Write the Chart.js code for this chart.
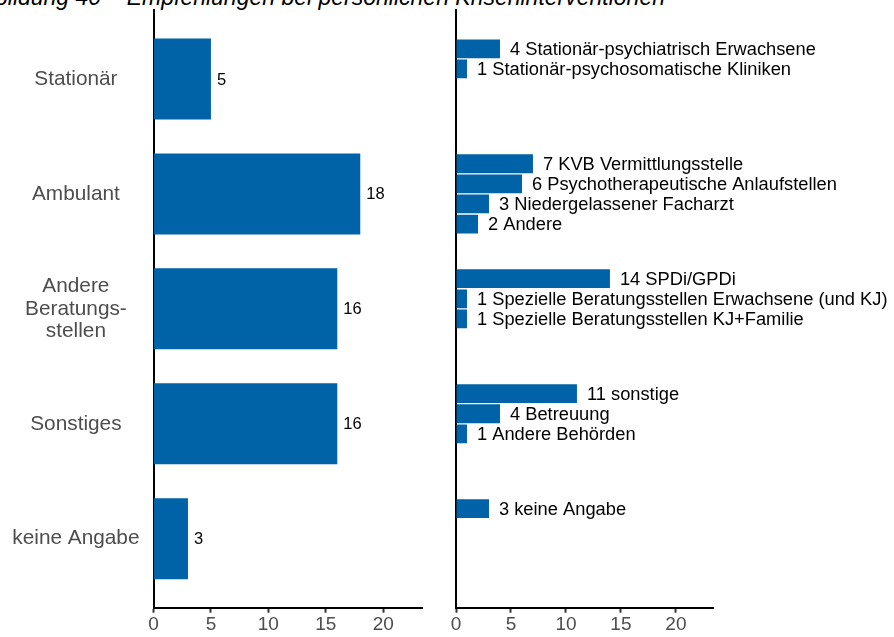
<!DOCTYPE html>
<html>
<head>
<meta charset="utf-8">
<script src="https://cdn.jsdelivr.net/npm/chart.js@4.4.0/dist/chart.umd.min.js"></script>
<style>
  body { margin: 0; background: #fff; width: 894px; height: 637px; overflow: hidden; position: relative; }
  #title { position: absolute; right: 229px; top: -14.5px; font: italic 23px/23px "Liberation Sans", Arial, sans-serif; color: #000; white-space: nowrap; }
  canvas { position: absolute; top: 0; }
  #leftChart { left: 0; }
  #rightChart { left: 440px; }
</style>
</head>
<body>
<div id="title">Abbildung 40 – Empfehlungen bei persönlichen Kriseninterventionen</div>
<canvas id="leftChart" width="440" height="637"></canvas>
<canvas id="rightChart" width="454" height="637"></canvas>
<script>
// categories (left axis)
const categories = ['Stationär', 'Ambulant', ['Andere', 'Beratungs-', 'stellen'], 'Sonstiges', 'keine Angabe'];
// total per category
const totals = [5, 18, 16, 16, 3];
// breakdown per category
const detailValues = [[4, 1], [7, 6, 3, 2], [14, 1, 1], [11, 4, 1], [3]];
const detailNames = [
    ['Stationär-psychiatrisch Erwachsene', 'Stationär-psychosomatische Kliniken'],
    ['KVB Vermittlungsstelle', 'Psychotherapeutische Anlaufstellen', 'Niedergelassener Facharzt', 'Andere'],
    ['SPDi/GPDi', 'Spezielle Beratungsstellen Erwachsene (und KJ)', 'Spezielle Beratungsstellen KJ+Familie'],
    ['sonstige', 'Betreuung', 'Andere Behörden'],
    ['keine Angabe']
];
const xTicks = [0, 5, 10, 15, 20];
const xMax = 23.4;
const slots = 4;

const blue = '#0062a7';
const font = '"Liberation Sans", Arial, sans-serif';

const barLabels = {
    id: 'barLabels',
    afterDatasetsDraw(chart, args, opts) {
        const ctx = chart.ctx;
        ctx.save();
        ctx.font = opts.size + 'px ' + font;
        ctx.fillStyle = '#000';
        ctx.textBaseline = 'middle';
        ctx.textAlign = 'left';
        chart.data.datasets.forEach((ds, di) => {
            chart.getDatasetMeta(di).data.forEach((bar, i) => {
                const d = ds.data[i];
                if (d.x == null) return;
                const text = d.name ? d.x + ' ' + d.name : String(d.x);
                ctx.fillText(text, bar.x + opts.gap, bar.y + 1);
            });
        });
        ctx.restore();
    }
};

function xScale() {
    return {
        type: 'linear',
        min: 0,
        max: xMax,
        afterBuildTicks: s => { s.ticks = xTicks.map(v => ({ value: v })); },
        afterFit: s => { s.height = 29.3; },
        border: { display: true, color: '#000', width: 2 },
        grid: { drawOnChartArea: false, drawTicks: true, tickLength: 5, tickWidth: 2, tickColor: '#333' },
        ticks: { color: '#4d4d4d', font: { family: font, size: 19 }, padding: 1, maxRotation: 0 }
    };
}

function yScale(width, showLabels) {
    return {
        type: 'linear',
        reverse: true,
        offset: false,
        min: -0.6,
        max: categories.length - 0.4,
        afterBuildTicks: s => { s.ticks = categories.map((c, i) => ({ value: i })); },
        afterFit: s => { s.width = width; s.paddingTop = 0; s.paddingBottom = 0; },
        border: { display: true, color: '#000', width: 2 },
        grid: { display: false, drawTicks: false },
        ticks: {
            display: showLabels,
            autoSkip: false,
            crossAlign: 'center',
            padding: 14,
            color: '#4d4d4d',
            font: { family: font, size: 20.8, lineHeight: 1.1 },
            callback: v => categories[v]
        }
    };
}

// left: totals
new Chart(document.getElementById('leftChart'), {
    type: 'bar',
    data: {
        datasets: [{
            data: totals.map((v, i) => ({ x: v, y: i })),
            backgroundColor: blue,
            categoryPercentage: 1,
            barPercentage: 0.705
        }]
    },
    options: {
        indexAxis: 'y',
        responsive: false,
        animation: false,
        layout: { padding: { top: 10, right: 17.7, left: 0, bottom: 0 } },
        plugins: { legend: { display: false }, tooltip: { enabled: false }, barLabels: { size: 16.5, gap: 6 } },
        scales: { x: xScale(), y: yScale(153.5, true) }
    },
    plugins: [barLabels]
});

// right: breakdown, one dataset per slot
const slotSets = [];
for (let j = 0; j < slots; j++) {
    slotSets.push({
        data: categories.map((c, i) => ({
            x: detailValues[i][j] !== undefined ? detailValues[i][j] : null,
            y: i,
            name: detailNames[i][j]
        })),
        backgroundColor: blue,
        categoryPercentage: 0.7,
        barPercentage: 0.935
    });
}

new Chart(document.getElementById('rightChart'), {
    type: 'bar',
    data: { datasets: slotSets },
    options: {
        indexAxis: 'y',
        responsive: false,
        animation: false,
        layout: { padding: { top: 10, right: 180.7, left: 0, bottom: 0 } },
        plugins: { legend: { display: false }, tooltip: { enabled: false }, barLabels: { size: 18.3, gap: 10 } },
        scales: { x: xScale(), y: yScale(16, false) }
    },
    plugins: [barLabels]
});
</script>
</body>
</html>
